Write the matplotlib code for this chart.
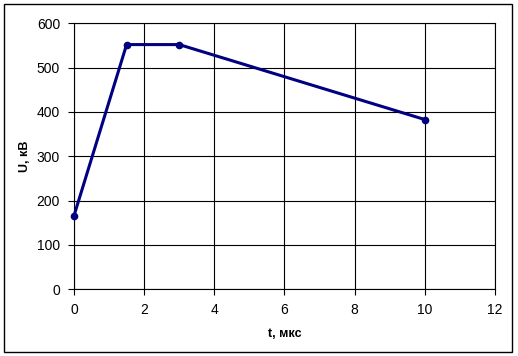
import matplotlib
matplotlib.use("Agg")
import matplotlib.pyplot as plt
from matplotlib.patches import Rectangle

t_values = [0, 1.5, 3, 10]
u_values = [166, 552, 552, 383]
x_ticks = [0, 2, 4, 6, 8, 10, 12]
y_ticks = [0, 100, 200, 300, 400, 500, 600]
x_label = "t, мкс"
y_label = "U, кВ"

plt.rcParams['font.family'] = ['Liberation Sans', 'DejaVu Sans']

fig = plt.figure(figsize=(5.18, 3.56), dpi=100)
fig.patches.append(Rectangle((4/518, 4/356), 508/518, 348/356, transform=fig.transFigure,
                             fill=False, edgecolor='black', linewidth=1.0))
ax = fig.add_axes([74/518, (356-289.3)/356, (494.8-74)/518, (289.3-23.3)/356])
ax.plot(t_values, u_values, color='#000080', linewidth=2.2, marker='o', markersize=4.5,
        zorder=3, clip_on=False)
ax.set_xlim(0, 12)
ax.set_ylim(0, 600)
ax.set_xticks(x_ticks)
ax.set_yticks(y_ticks)
ax.grid(True, color='black', linewidth=0.8)
ax.set_axisbelow(True)
for s in ax.spines.values():
    s.set_color('black')
    s.set_linewidth(0.8)
ax.tick_params(direction='out', length=4, width=0.8, labelsize=10, pad=6)
ax.set_xlabel(x_label, fontsize=9, fontweight='bold', labelpad=8)
ax.set_ylabel(y_label, fontsize=9, fontweight='bold', labelpad=4)
fig.savefig("out.png", dpi=100)
